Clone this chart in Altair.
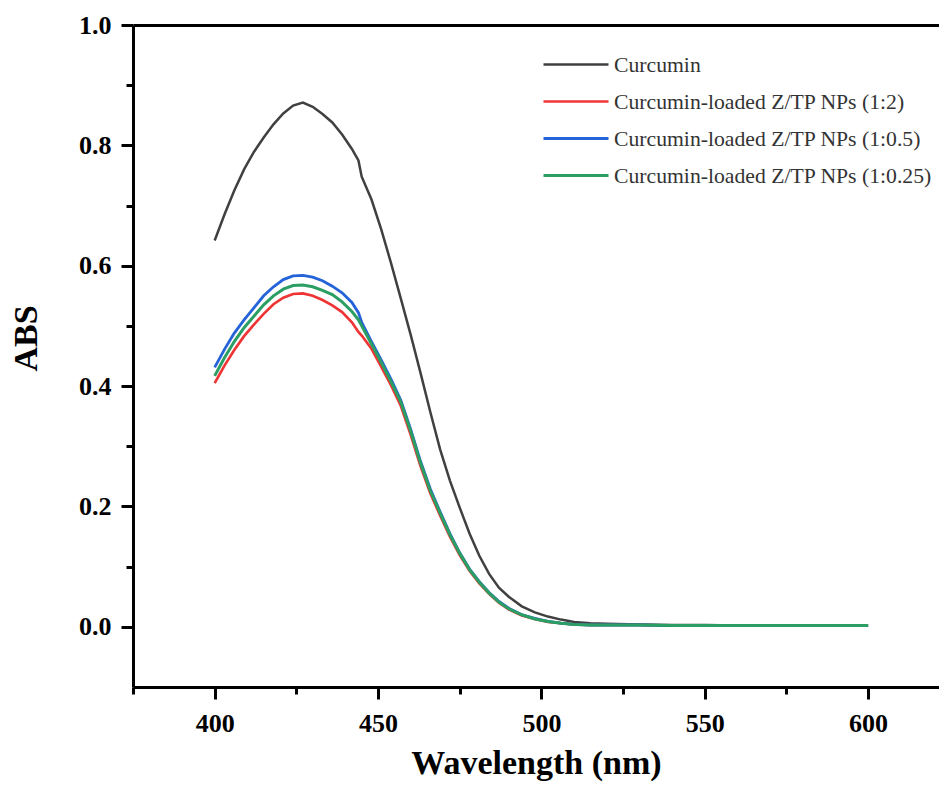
import altair as alt
import pandas as pd

WAVELENGTH = [400, 403, 406, 409, 412, 415, 418, 421, 424, 427, 430, 433, 436, 439, 442, 444, 445,
              448, 451, 454, 457, 460, 463, 466, 469, 472, 475, 478, 481, 484, 487, 490, 494, 498,
              502, 506, 510, 515, 520, 530, 540, 550, 560, 570, 580, 590, 600]

CURCUMIN = [0.642, 0.685, 0.725, 0.760, 0.789, 0.813, 0.835, 0.853, 0.866, 0.871, 0.864, 0.852, 0.838,
            0.818, 0.794, 0.775, 0.748, 0.710, 0.660, 0.604, 0.545, 0.485, 0.422, 0.357, 0.295, 0.243,
            0.198, 0.155, 0.118, 0.088, 0.065, 0.050, 0.034, 0.024, 0.017, 0.012, 0.008, 0.006, 0.005,
            0.004, 0.003, 0.003, 0.002, 0.002, 0.002, 0.002, 0.002]

NP_1_2 = [0.405, 0.434, 0.460, 0.483, 0.502, 0.520, 0.536, 0.547, 0.553, 0.554, 0.550, 0.543, 0.534,
          0.523, 0.506, 0.490, 0.484, 0.462, 0.432, 0.401, 0.367, 0.319, 0.267, 0.222, 0.185, 0.150,
          0.119, 0.093, 0.072, 0.055, 0.040, 0.029, 0.019, 0.013, 0.008, 0.006, 0.004, 0.003, 0.003,
          0.003, 0.002, 0.002, 0.002, 0.002, 0.002, 0.002, 0.002]

NP_1_05 = [0.431, 0.461, 0.488, 0.510, 0.530, 0.550, 0.565, 0.577, 0.583, 0.584, 0.581, 0.575, 0.566,
           0.555, 0.539, 0.522, 0.506, 0.474, 0.443, 0.411, 0.376, 0.328, 0.275, 0.229, 0.191, 0.155,
           0.123, 0.096, 0.075, 0.057, 0.042, 0.031, 0.020, 0.014, 0.009, 0.006, 0.004, 0.003, 0.003,
           0.003, 0.002, 0.002, 0.002, 0.002, 0.002, 0.002, 0.002]

NP_1_025 = [0.417, 0.447, 0.474, 0.497, 0.516, 0.535, 0.550, 0.561, 0.567, 0.568, 0.565, 0.559, 0.552,
            0.540, 0.524, 0.510, 0.500, 0.470, 0.439, 0.407, 0.373, 0.325, 0.272, 0.226, 0.189, 0.153,
            0.122, 0.095, 0.074, 0.056, 0.041, 0.030, 0.020, 0.013, 0.009, 0.006, 0.004, 0.003, 0.003,
            0.003, 0.002, 0.002, 0.002, 0.002, 0.002, 0.002, 0.002]

SERIES = ["Curcumin",
          "Curcumin-loaded Z/TP NPs (1:2)",
          "Curcumin-loaded Z/TP NPs (1:0.5)",
          "Curcumin-loaded Z/TP NPs (1:0.25)"]
COLORS = ["#404040", "#ee3434", "#2563d8", "#2a9e63"]
WIDTHS = [2.5, 3, 3, 3]

X_MAJOR = [400, 450, 500, 550, 600]
X_MINOR = [375, 425, 475, 525, 575]
Y_MAJOR = [0.0, 0.2, 0.4, 0.6, 0.8, 1.0]
Y_MINOR = [0.1, 0.3, 0.5, 0.7, 0.9]

rows = []
for name, vals in zip(SERIES, [CURCUMIN, NP_1_2, NP_1_05, NP_1_025]):
    for w, v in zip(WAVELENGTH, vals):
        rows.append({"wl": w, "abs": v, "series": name})
df = pd.DataFrame(rows)

FONT = "Liberation Serif"
xscale = alt.Scale(domain=[375, 621.7], nice=False, zero=False)
yscale = alt.Scale(domain=[-0.1, 1.0], nice=False, zero=False)

lines = alt.Chart(df).mark_line(clip=True).encode(
    x=alt.X("wl:Q", scale=xscale,
            axis=alt.Axis(orient="bottom", values=X_MAJOR, format="d", title="Wavelength (nm)",
                          labelFontSize=26, labelFontWeight="bold", labelPadding=11,
                          titleFontSize=34, titleFontWeight="bold", titlePadding=10,
                          tickSize=12, tickWidth=3, domainWidth=3)),
    y=alt.Y("abs:Q", scale=yscale,
            axis=alt.Axis(orient="left", values=Y_MAJOR, format=".1f", title="ABS",
                          labelFontSize=26, labelFontWeight="bold", labelPadding=10,
                          titleFontSize=34, titleFontWeight="bold",
                          titleX=-97, titleY=313, titleBaseline="alphabetic",
                          tickSize=12, tickWidth=3, domainWidth=3)),
    color=alt.Color("series:N", sort=SERIES,
                    scale=alt.Scale(domain=SERIES, range=COLORS),
                    legend=alt.Legend(title=None, orient="none", legendX=409, legendY=28,
                                      symbolType="M-1,0H5.5", symbolSize=400,
                                      symbolStrokeWidth=3,
                                      labelFont=FONT, labelFontSize=21.7, labelColor="#333333",
                                      labelLimit=0, labelOffset=49, rowPadding=13)),
    strokeWidth=alt.StrokeWidth("series:N", scale=alt.Scale(domain=SERIES, range=WIDTHS), legend=None),
)

minor = alt.Chart(df).mark_point(opacity=0).encode(
    x=alt.X("wl:Q", scale=xscale,
            axis=alt.Axis(orient="bottom", values=X_MINOR, labels=False, title=None, domain=False,
                          tickSize=7, tickWidth=3)),
    y=alt.Y("abs:Q", scale=yscale,
            axis=alt.Axis(orient="left", values=Y_MINOR, labels=False, title=None, domain=False,
                          tickSize=7, tickWidth=3)),
)

top = alt.Chart(df).mark_point(opacity=0).encode(
    x=alt.X("wl:Q", scale=xscale,
            axis=alt.Axis(orient="top", labels=False, ticks=False, title=None, domain=True,
                          domainWidth=3)),
)

chart = alt.layer(lines, minor, top).resolve_axis(
    x="independent", y="independent"
).properties(
    width=806, height=662,
    autosize=alt.AutoSizeParams(type="none"),
    padding={"left": 125, "top": 17, "right": 0, "bottom": 95},
).configure_view(stroke=None).configure_axis(
    grid=False, domainColor="black", tickColor="black", labelColor="black", titleColor="black",
    labelFont=FONT, titleFont=FONT, domainWidth=3
)

chart.save("out.html", embed_options={"renderer": "svg", "actions": False})
